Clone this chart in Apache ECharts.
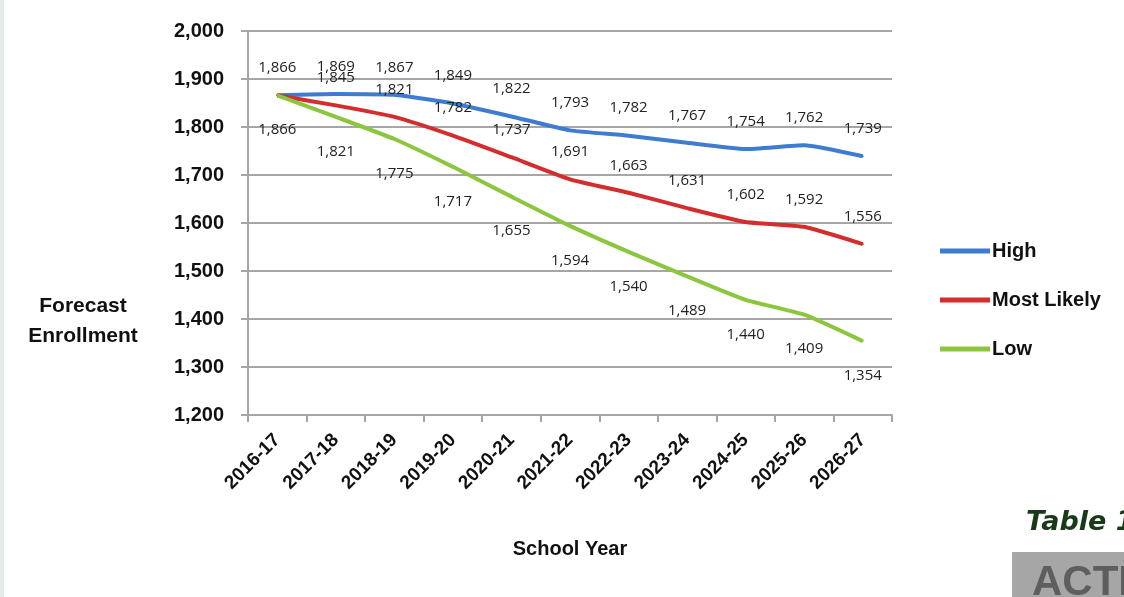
<!DOCTYPE html>
<html>
<head>
<meta charset="utf-8">
<script src="https://cdn.jsdelivr.net/npm/echarts@6/dist/echarts.min.js"></script>
<style>
  html, body { margin: 0; padding: 0; background: #fff; }
  #chart { width: 1124px; height: 597px; }
</style>
</head>
<body>
<div id="chart"></div>
<script>
const schoolYears = ["2016-17", "2017-18", "2018-19", "2019-20", "2020-21", "2021-22", "2022-23", "2023-24", "2024-25", "2025-26", "2026-27"];
const highValues = [1866, 1869, 1867, 1849, 1822, 1793, 1782, 1767, 1754, 1762, 1739];
const mostLikelyValues = [1866, 1845, 1821, 1782, 1737, 1691, 1663, 1631, 1602, 1592, 1556];
const lowValues = [1866, 1821, 1775, 1717, 1655, 1594, 1540, 1489, 1440, 1409, 1354];

const chart = echarts.init(document.getElementById("chart"));

const fmt = (v) => v.toLocaleString("en-US");
const labelFont = "'Open Sans', 'Noto Sans', sans-serif";
const axisFont = "'Liberation Sans', Arial, sans-serif";

// labels hang off the symbols, so keep a tiny symbol in the line colour
const lineSeries = (name, data, color, pos, dist) => ({
    name,
    type: "line",
    data,
    symbol: "circle",
    symbolSize: 2,
    showSymbol: true,
    smooth: 0.15,
    lineStyle: { color, width: 4 },
    itemStyle: { color },
    label: {
        show: true,
        position: pos,
        distance: dist,
        color: "#222",
        fontFamily: labelFont,
        fontSize: 15,
        formatter: (p) => fmt(p.value),
    },
    emphasis: { disabled: true },
});

// the shared starting point is labelled once above (High) and once below (Low)
const mostLikelyData = mostLikelyValues.map((v, i) => (i === 0 ? { value: v, label: { show: false } } : v));

const option = {
    animation: false,
    backgroundColor: "#fff",
    grid: { left: 248, right: 232, top: 31, bottom: 182 },
    legend: {
        orient: "vertical",
        left: 935,
        top: 236,
        itemWidth: 50,
        itemHeight: 5,
        itemGap: 29,
        icon: "rect",
        textStyle: { fontFamily: axisFont, fontWeight: "bold", fontSize: 20, color: "#111", padding: [0, 0, 0, -3] },
        data: ["High", "Most Likely", "Low"],
    },
    xAxis: {
        type: "category",
        data: schoolYears,
        boundaryGap: true,
        name: "School Year",
        nameLocation: "middle",
        nameGap: 124,
        nameTextStyle: { fontFamily: axisFont, fontWeight: "bold", fontSize: 20, color: "#111" },
        axisLine: { lineStyle: { color: "#a6a6a6", width: 2 } },
        axisTick: { show: true, length: 7, lineStyle: { color: "#a6a6a6", width: 2 } },
        axisLabel: { rotate: 45, margin: 22, fontFamily: axisFont, fontWeight: "bold", fontSize: 19, color: "#111" },
    },
    yAxis: {
        type: "value",
        min: 1200,
        max: 2000,
        interval: 100,
        axisLine: { show: true, lineStyle: { color: "#a6a6a6", width: 2 } },
        axisTick: { show: true, length: 7, lineStyle: { color: "#a6a6a6", width: 2 } },
        splitLine: { lineStyle: { color: "#a6a6a6", width: 2 } },
        axisLabel: { margin: 24, fontFamily: axisFont, fontWeight: "bold", fontSize: 20, color: "#111", formatter: fmt },
    },
    graphic: [
        { type: "rect", left: 0, top: 0, shape: { width: 4, height: 597 }, style: { fill: "#e6eaea" } },
        {
            type: "text", x: 83, y: 291,
            style: {
                text: "Forecast\nEnrollment", fontFamily: axisFont, fontWeight: "bold", fontSize: 21,
                fill: "#111", align: "center", lineHeight: 30,
            },
        },
        { type: "rect", left: 1012, top: 552, shape: { width: 112, height: 45 }, style: { fill: "#a6a6a6" } },
        {
            type: "text", left: 1032, top: 562,
            style: { text: "ACTI", fontFamily: axisFont, fontWeight: "bold", fontSize: 42, fill: "#5e5e5e" },
        },
        {
            type: "text", left: 1026, top: 509,
            style: { text: "Table 1", fontFamily: "'DejaVu Sans', sans-serif", fontStyle: "italic", fontWeight: "bold", fontSize: 27, fill: "#183a18" },
        },
    ],
    series: [
        lineSeries("High", highValues, "#3d7cd0", "top", 19),
        lineSeries("Most Likely", mostLikelyData, "#d42d2d", "top", 19),
        lineSeries("Low", lowValues, "#8cc63f", "bottom", 26),
    ],
};

chart.setOption(option);
</script>
</body>
</html>
